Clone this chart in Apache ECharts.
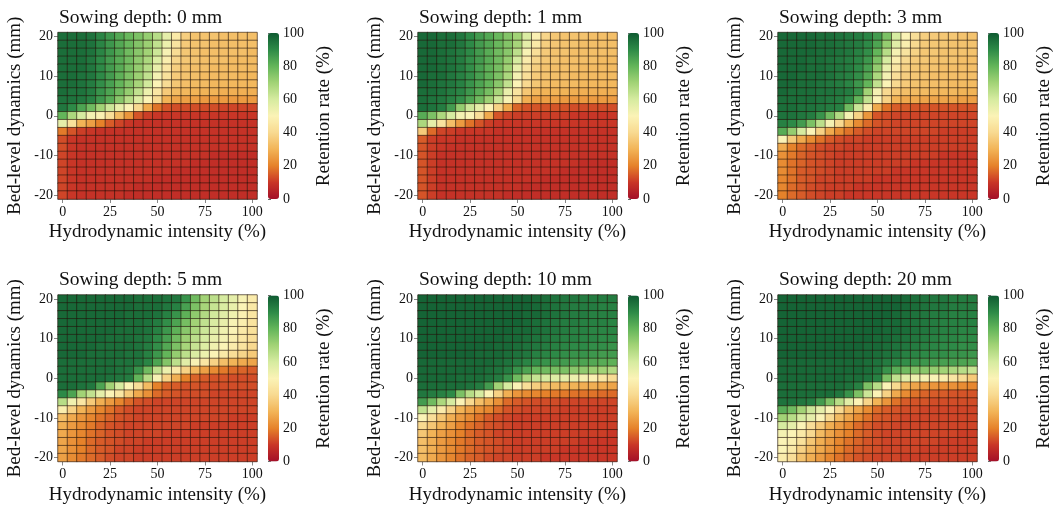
<!DOCTYPE html>
<html>
<head>
<meta charset="utf-8">
<title>Retention rate by sowing depth</title>
<script src="https://cdn.jsdelivr.net/npm/echarts@6/dist/echarts.min.js"></script>
<style>
  html, body { margin: 0; padding: 0; background: #ffffff; }
  #chart { width: 1059px; height: 507px; }
</style>
</head>
<body>
<div id="chart"></div>
<script>
// Axis categories
const hydroLabels = ['0','5','10','15','20','25','30','35','40','45','50','55','60','65','70','75','80','85','90','95','100'];
const bedLabels = ['-20','-18','-16','-14','-12','-10','-8','-6','-4','-2','0','2','4','6','8','10','12','14','16','18','20'];
const colorbarTicks = [0, 20, 40, 60, 80, 100];
const sowingDepths = ['0 mm', '1 mm', '3 mm', '5 mm', '10 mm', '20 mm'];

// Retention rate (%), one row per bed-level value from +20 mm (first) down to -20 mm (last),
// one column per hydrodynamic intensity from 0 % to 100 %.
const retention0mm = [
  [96,96,96,95,91,87,83,79,76,72,66,56,46,37,34,34,34,33,33,33,33],
  [96,96,96,95,91,87,83,79,75,71,64,54,44,36,34,34,33,33,33,33,33],
  [96,96,96,95,91,87,83,78,74,70,62,51,41,35,34,33,33,33,33,33,32],
  [96,96,96,94,90,86,82,78,73,68,58,48,39,35,34,33,33,33,32,32,32],
  [96,96,96,94,90,86,82,77,72,66,55,45,37,34,33,33,32,32,32,32,32],
  [96,96,95,94,90,86,81,76,71,64,52,43,36,34,33,32,32,32,32,31,31],
  [96,96,95,93,89,85,80,75,69,61,50,41,35,33,32,32,31,31,31,31,31],
  [96,95,95,93,88,84,78,72,64,54,45,36,32,31,30,30,30,29,29,29,29],
  [95,95,94,92,87,82,74,66,58,50,41,30,27,26,26,25,25,25,25,25,25],
  [94,90,84,78,70,62,55,50,40,28,18,14,13,13,13,13,13,12,12,12,12],
  [80,68,60,52,49,42,32,24,14,11,10,10,10,10,10,10,10,10,10,10,10],
  [56,43,30,26,20,15,12,10,9,9,9,9,9,9,9,9,9,9,9,9,9],
  [19,14,11,10,9,9,9,9,9,9,9,9,9,9,9,9,9,9,9,9,9],
  [13,10,9,9,9,9,9,9,9,9,9,9,9,9,9,9,9,9,9,9,9],
  [13,10,9,9,9,9,9,9,9,9,9,9,9,9,9,9,9,9,9,9,9],
  [12,10,9,9,9,9,9,9,9,9,9,9,9,9,9,9,8,8,8,8,8],
  [12,10,9,9,9,9,9,9,9,9,9,9,9,9,8,8,8,8,8,8,8],
  [12,10,9,9,9,9,9,9,9,9,9,9,8,8,8,8,8,8,8,8,8],
  [12,10,9,9,9,9,9,9,9,9,8,8,8,8,8,8,8,8,8,8,8],
  [12,10,9,9,9,9,9,9,8,8,8,8,8,8,8,8,8,8,8,8,8],
  [12,10,9,9,9,9,9,8,8,8,8,8,8,8,8,8,8,8,8,8,8]
];

const retention1mm = [
  [97,97,96,96,94,90,86,83,79,75,70,59,49,39,35,34,34,34,33,33,33],
  [97,97,96,96,94,90,86,83,79,75,69,56,46,37,35,34,34,33,33,33,33],
  [97,97,96,95,93,90,86,82,78,74,65,51,42,36,34,34,33,33,33,33,33],
  [97,97,96,95,93,89,86,82,78,72,60,47,39,35,34,33,33,33,33,32,32],
  [97,97,96,95,93,89,85,81,77,70,55,44,37,34,33,33,33,32,32,32,32],
  [97,96,96,94,92,89,85,81,76,68,52,42,36,34,33,33,32,32,32,32,32],
  [97,96,95,94,92,88,84,80,74,64,50,40,35,33,32,32,32,31,31,31,31],
  [96,96,95,93,91,87,82,77,69,55,44,35,31,30,30,30,29,29,29,29,29],
  [96,95,94,92,89,84,78,71,62,51,40,29,26,26,26,25,25,25,25,25,25],
  [96,95,93,86,72,62,56,50,38,28,16,14,14,14,14,14,13,13,13,13,13],
  [82,76,68,60,52,50,42,28,14,12,11,11,11,11,11,11,10,10,10,10,10],
  [68,56,44,33,25,18,14,11,10,10,10,10,10,10,10,10,10,10,10,10,10],
  [36,17,12,11,10,10,10,10,9,9,9,9,9,9,9,9,9,9,9,9,9],
  [15,11,10,10,9,9,9,9,9,9,9,9,9,9,9,9,9,9,9,9,9],
  [14,11,10,9,9,9,9,9,9,9,9,9,9,9,9,9,9,9,9,9,9],
  [14,11,9,9,9,9,9,9,9,9,9,9,9,9,9,9,9,9,9,9,9],
  [14,11,9,9,9,9,9,9,9,9,9,9,9,9,9,9,9,8,8,8,8],
  [14,11,9,9,9,9,9,9,9,9,9,9,9,9,9,8,8,8,8,8,8],
  [14,11,9,9,9,9,9,9,9,9,9,9,9,8,8,8,8,8,8,8,8],
  [14,11,9,9,9,9,9,9,9,9,9,8,8,8,8,8,8,8,8,8,8],
  [14,11,9,9,9,9,9,9,9,8,8,8,8,8,8,8,8,8,8,8,8]
];

const retention3mm = [
  [97,97,97,97,96,96,95,94,93,91,86,76,60,50,42,37,36,35,35,34,34],
  [97,97,97,97,96,96,95,94,93,90,84,72,57,48,40,36,35,35,34,34,34],
  [97,97,97,97,96,96,95,94,92,89,80,66,52,44,38,35,35,34,34,34,34],
  [97,97,97,96,96,95,94,93,91,87,76,60,48,40,36,35,34,34,34,33,33],
  [97,97,97,96,96,95,94,93,90,85,72,55,45,38,35,34,34,33,33,33,33],
  [97,97,96,96,96,95,93,92,89,83,68,52,42,37,35,34,33,33,33,33,33],
  [97,97,96,96,95,94,93,91,87,80,64,50,40,36,34,33,33,33,32,32,32],
  [97,96,96,96,95,95,94,93,88,70,52,40,35,33,32,32,31,31,31,30,30],
  [96,96,96,96,95,94,93,90,80,64,50,38,30,28,28,27,27,27,27,26,26],
  [96,96,95,95,94,93,92,78,62,48,28,18,15,15,14,14,14,14,14,14,14],
  [95,95,94,93,88,78,67,52,38,24,14,13,12,12,12,12,12,12,12,12,12],
  [92,90,86,76,65,52,40,30,22,17,14,13,12,12,12,12,12,12,12,12,12],
  [82,72,60,50,38,28,22,18,15,13,12,12,12,12,12,12,12,11,11,11,11],
  [50,36,28,22,18,15,13,12,12,11,11,11,11,11,11,11,11,11,11,11,11],
  [28,20,17,15,13,12,12,11,11,11,11,11,11,11,11,11,11,11,11,11,11],
  [23,19,16,14,13,12,11,11,11,11,11,11,11,11,11,11,11,10,10,10,10],
  [22,18,16,14,13,12,11,11,11,11,11,11,11,11,10,10,10,10,10,10,10],
  [22,18,15,14,13,12,11,11,11,11,11,11,10,10,10,10,10,10,10,10,10],
  [21,18,15,14,12,12,11,11,11,11,10,10,10,10,10,10,10,10,10,10,10],
  [21,17,15,13,12,11,11,11,10,10,10,10,10,10,10,10,10,10,10,10,10],
  [20,17,15,13,12,11,11,10,10,10,10,10,10,10,10,10,10,10,10,10,10]
];

const retention5mm = [
  [97,97,97,97,97,97,97,97,96,96,96,95,94,88,78,70,65,60,56,51,47],
  [97,97,97,97,97,97,97,97,96,96,96,94,92,85,76,69,63,59,55,50,46],
  [97,97,97,97,97,97,97,96,96,96,95,92,88,81,73,67,61,57,53,49,45],
  [97,97,97,97,97,97,97,96,96,95,93,89,84,77,70,64,59,55,51,48,44],
  [97,97,97,97,97,97,96,96,96,95,92,87,81,74,68,62,57,53,50,46,43],
  [97,97,97,97,97,96,96,96,95,94,90,85,78,71,65,60,55,52,48,45,42],
  [97,97,97,97,96,96,96,96,95,93,89,83,76,69,63,58,53,50,47,44,40],
  [97,97,97,96,96,96,96,95,95,92,87,80,72,65,59,54,50,46,42,39,36],
  [96,96,96,96,96,96,95,95,94,91,84,75,65,57,51,45,38,33,30,28,27],
  [96,96,96,96,96,96,95,94,88,78,64,54,46,38,31,26,22,19,17,16,15],
  [96,96,96,96,96,95,94,93,80,66,51,38,29,20,16,15,14,14,13,13,13],
  [96,96,95,94,84,70,60,50,42,32,20,16,15,14,14,13,13,13,13,13,13],
  [90,84,70,64,56,50,45,36,28,23,17,15,14,13,13,13,12,12,12,12,12],
  [66,53,45,36,29,25,21,17,14,13,12,12,12,12,12,12,12,12,12,12,12],
  [48,38,30,25,21,18,15,13,12,12,12,12,12,12,12,12,12,12,12,12,12],
  [33,28,24,21,18,16,14,13,12,12,12,12,12,12,12,12,12,12,11,11,11],
  [29,25,22,19,16,14,13,12,12,12,12,12,12,12,11,11,11,11,11,11,11],
  [28,24,21,18,16,14,13,12,12,12,12,11,11,11,11,11,11,11,11,11,11],
  [27,23,20,17,15,14,13,12,12,11,11,11,11,11,11,11,11,11,11,11,11],
  [27,23,20,17,15,14,12,12,11,11,11,11,11,11,11,11,11,11,11,11,11],
  [26,22,19,17,15,13,12,12,11,11,11,11,11,11,11,11,11,11,11,11,11]
];

const retention10mm = [
  [98,98,98,98,98,98,98,98,98,98,98,98,97,96,95,94,94,93,93,93,93],
  [98,98,98,98,98,98,98,98,98,98,98,98,97,96,95,94,93,93,93,92,92],
  [98,98,98,98,98,98,98,98,98,98,98,97,97,96,95,94,93,93,92,92,92],
  [98,98,98,98,98,98,98,98,98,98,98,97,96,95,94,93,93,92,92,92,91],
  [98,98,98,98,98,98,98,98,98,98,97,97,96,95,94,93,92,92,91,91,91],
  [98,98,98,98,98,98,98,98,98,97,97,96,95,94,93,92,92,91,91,90,90],
  [98,98,98,98,98,98,98,98,97,97,96,95,94,93,92,91,90,90,89,89,88],
  [98,98,98,98,98,98,97,97,97,96,95,94,92,91,90,89,88,88,87,86,86],
  [97,97,97,97,97,97,97,97,96,95,93,91,89,88,87,86,85,84,83,82,81],
  [97,97,97,97,97,97,97,96,95,93,88,84,80,78,77,76,74,73,71,70,67],
  [97,97,97,97,96,96,96,95,93,88,78,68,63,60,58,56,54,52,49,45,41],
  [96,96,96,96,96,95,93,86,70,60,50,42,37,34,32,31,30,29,29,28,27],
  [94,93,92,90,76,66,60,50,38,29,24,22,21,20,19,19,18,18,18,17,17],
  [86,78,68,60,50,40,33,28,23,17,15,14,13,13,13,12,12,12,12,12,12],
  [64,56,47,38,30,26,23,21,17,14,13,12,12,12,12,11,11,11,11,11,11],
  [50,42,35,29,25,22,18,15,13,12,11,11,11,11,11,11,11,11,11,11,11],
  [40,35,30,26,21,18,16,14,13,12,11,11,11,11,11,11,11,11,11,11,11],
  [35,30,26,23,20,17,15,14,12,12,11,11,11,11,11,11,11,11,11,11,10],
  [33,29,25,22,19,17,15,14,13,12,11,11,11,11,11,11,11,10,10,10,10],
  [33,29,25,22,19,17,15,14,13,12,11,11,11,11,11,10,10,10,10,10,10],
  [32,28,24,21,18,16,15,13,12,12,11,11,11,10,10,10,10,10,10,10,10]
];

const retention20mm = [
  [98,98,98,98,98,98,98,98,98,98,98,98,98,97,96,95,94,94,93,93,93],
  [98,98,98,98,98,98,98,98,98,98,98,98,98,97,96,95,94,94,93,93,93],
  [98,98,98,98,98,98,98,98,98,98,98,98,97,96,95,94,93,93,92,92,92],
  [98,98,98,98,98,98,98,98,98,98,98,97,97,96,95,94,93,92,92,92,92],
  [98,98,98,98,98,98,98,98,98,98,98,97,97,96,95,94,93,92,92,91,91],
  [98,98,98,98,98,98,98,98,98,98,97,97,96,95,94,93,92,91,91,90,90],
  [98,98,98,98,98,98,98,98,98,97,97,96,95,94,93,92,91,90,90,89,89],
  [98,98,98,98,98,98,98,98,97,97,96,95,94,92,91,90,89,89,88,88,87],
  [97,97,97,97,97,97,97,97,97,96,95,93,91,89,88,87,86,85,85,84,83],
  [97,97,97,97,97,97,97,97,97,96,94,88,82,78,75,74,72,70,68,66,63],
  [97,97,97,97,97,97,97,96,96,95,92,76,64,57,54,52,50,48,45,41,36],
  [96,96,96,96,96,96,96,95,92,76,66,50,40,31,27,25,24,23,23,22,21],
  [96,96,96,96,96,96,94,88,76,62,50,38,28,22,18,16,15,15,14,14,14],
  [95,95,94,93,86,76,66,57,50,39,30,24,18,15,14,14,13,13,13,13,13],
  [82,78,70,62,56,50,40,32,27,22,17,15,14,13,13,12,12,12,12,12,12],
  [70,66,60,56,50,40,32,27,22,18,15,14,13,12,12,12,12,12,12,12,12],
  [60,56,50,42,36,29,25,21,17,15,13,13,12,12,12,12,12,12,12,12,12],
  [52,50,46,40,32,27,23,20,17,15,13,12,12,12,12,12,12,12,12,11,11],
  [50,48,43,35,29,25,21,18,16,14,13,12,12,12,12,12,12,11,11,11,11],
  [50,46,38,32,28,24,20,17,15,14,13,12,12,12,12,11,11,11,11,11,11],
  [47,42,34,29,25,21,18,16,14,13,12,12,12,11,11,11,11,11,11,11,11]
];

const panelRows = [retention0mm, retention1mm, retention3mm, retention5mm, retention10mm, retention20mm];

// Red-yellow-green ramp from 0 % to 100 %
const rampColors = ['#a30f28','#c93627','#e6822a','#f2b457','#f8d990','#fbf3b6',
                    '#d6eba0','#a2d376','#63b55a','#2d8a47','#0f5b32'];

const FONT = "'Liberation Serif', 'Times New Roman', serif";
const INK = '#111111';

// Turn rows (top = +20 mm) into [xIndex, yIndex, value] triples for the heatmap
function toCells(rows) {
  const cells = [];
  const n = rows.length;
  rows.forEach(function (row, r) {
    row.forEach(function (v, c) {
      cells.push([c, n - 1 - r, v]);
    });
  });
  return cells;
}

// Panel placement
const PLOT_W = 199, PLOT_H = 166.5;
function panelLeft(i) { return 58 + 360 * (i % 3); }
function panelTop(i) { return 32.5 + 262.5 * Math.floor(i / 3); }

const titles = [], grids = [], xAxes = [], yAxes = [], visualMaps = [], series = [];

sowingDepths.forEach(function (depth, i) {
  const L = panelLeft(i), T = panelTop(i);

  titles.push({
    text: 'Sowing depth: ' + depth,
    left: L + 1, top: T - 25, padding: 0,
    textStyle: { fontFamily: FONT, fontSize: 19.5, fontWeight: 'normal', color: INK }
  });

  // heatmap grid
  grids.push({ left: L, top: T, width: PLOT_W, height: PLOT_H, show: true,
               borderColor: '#b5b5b5', borderWidth: 1, backgroundColor: 'transparent' });
  xAxes.push({
    type: 'category', gridIndex: i, data: hydroLabels,
    name: 'Hydrodynamic intensity (%)', nameLocation: 'middle', nameGap: 24,
    nameTextStyle: { fontFamily: FONT, fontSize: 19, color: INK },
    axisLine: { show: true, lineStyle: { color: '#a8a8a8', width: 1 } },
    axisTick: { show: true, interval: 4, alignWithLabel: true, length: 4, lineStyle: { color: '#888' } },
    axisLabel: { interval: 4, fontFamily: FONT, fontSize: 14, color: INK, margin: 6 },
    splitLine: { show: false }
  });
  yAxes.push({
    type: 'category', gridIndex: i, data: bedLabels,
    name: 'Bed-level dynamics (mm)', nameLocation: 'middle', nameGap: 33,
    nameTextStyle: { fontFamily: FONT, fontSize: 19, color: INK },
    axisLine: { show: true, lineStyle: { color: '#a8a8a8', width: 1 } },
    axisTick: { show: true, interval: 4, alignWithLabel: true, length: 4, lineStyle: { color: '#888' } },
    axisLabel: { interval: 4, fontFamily: FONT, fontSize: 14, color: INK, margin: 5 },
    splitLine: { show: false }
  });

  series.push({
    type: 'heatmap', name: depth, xAxisIndex: i, yAxisIndex: i,
    data: toCells(panelRows[i]),
    itemStyle: { borderColor: 'rgba(35,20,10,0.72)', borderWidth: 0.8 },
    emphasis: { disabled: true },
    progressive: 0
  });

  visualMaps.push({
    type: 'continuous', seriesIndex: i, min: 0, max: 100,
    calculable: false, realtime: false, hoverLink: false,
    orient: 'vertical', left: L + 210, top: T + 0.5,
    itemWidth: 11, itemHeight: 166, padding: 0,
    text: null, showLabel: false,
    inRange: { color: rampColors }
  });
});

// colorbar scales next to each panel
sowingDepths.forEach(function (depth, i) {
  const L = panelLeft(i) + 210, T = panelTop(i) + 0.5;
  const g = grids.length;
  grids.push({ left: L, top: T, width: 11, height: 166, show: false });
  xAxes.push({ type: 'value', gridIndex: g, show: false, min: 0, max: 1 });
  yAxes.push({
    type: 'value', gridIndex: g, position: 'right', min: colorbarTicks[0],
    max: colorbarTicks[colorbarTicks.length - 1], interval: 20,
    name: 'Retention rate (%)', nameLocation: 'middle', nameGap: 36,
    nameTextStyle: { fontFamily: FONT, fontSize: 19, color: INK },
    axisLine: { show: false },
    axisTick: { show: false },
    axisLabel: { fontFamily: FONT, fontSize: 14, color: INK, margin: 4 },
    splitLine: { show: false }
  });
  yAxes.push({
    type: 'value', gridIndex: g, position: 'left', min: 0, max: 100, interval: 20,
    axisLine: { show: false },
    axisTick: { show: true, inside: true, length: 3, lineStyle: { color: 'rgba(40,40,40,0.7)' } },
    axisLabel: { show: false },
    splitLine: { show: false }
  });
});

const chart = echarts.init(document.getElementById('chart'), null, { renderer: 'canvas' });
chart.setOption({
  backgroundColor: '#ffffff',
  animation: false,
  title: titles,
  grid: grids,
  xAxis: xAxes,
  yAxis: yAxes,
  visualMap: visualMaps,
  series: series
});
</script>
</body>
</html>
